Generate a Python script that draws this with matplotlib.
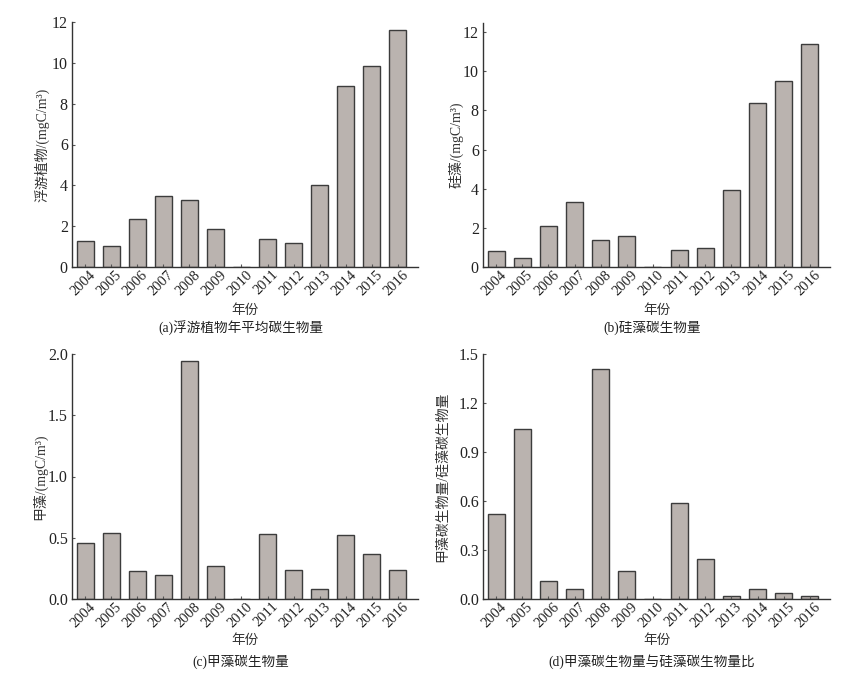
import numpy as np
import matplotlib
matplotlib.use('Agg')
import matplotlib.pyplot as plt
import matplotlib.transforms as mtransforms

plt.rcParams['font.family'] = ['Liberation Serif', 'Noto Sans CJK SC']

years = ['2004', '2005', '2006', '2007', '2008', '2009', '2010',
         '2011', '2012', '2013', '2014', '2015', '2016']
phyto = [1.26, 1.01, 2.33, 3.49, 3.27, 1.84, 0.0, 1.39, 1.16, 4.0, 8.88, 9.86, 11.62]
diatom = [0.80, 0.48, 2.09, 3.30, 1.36, 1.56, 0.0, 0.85, 0.95, 3.91, 8.35, 9.50, 11.37]
dino = [0.455, 0.54, 0.229, 0.20, 1.94, 0.27, 0.0, 0.53, 0.237, 0.079, 0.52, 0.365, 0.234]
ratio = [0.521, 1.042, 0.108, 0.059, 1.408, 0.17, 0.0, 0.585, 0.243, 0.02, 0.061, 0.037, 0.02]

ylabels = ['浮游植物/(mgC/m³)', '硅藻/(mgC/m³)', '甲藻/(mgC/m³)', '甲藻碳生物量/硅藻碳生物量']
captions = ['(a)浮游植物年平均碳生物量', '(b)硅藻碳生物量', '(c)甲藻碳生物量', '(d)甲藻碳生物量与硅藻碳生物量比']
yticks = [np.arange(0, 13, 2), np.arange(0, 13, 2), [0.0, 0.5, 1.0, 1.5, 2.0], [0.0, 0.3, 0.6, 0.9, 1.2, 1.5]]
ytickfmt = ['{:.0f}', '{:.0f}', '{:.1f}', '{:.1f}']
ylims = [(0, 12), (0, 12.46), (0, 2.0), (0, 1.5)]

W, H = 863, 676
# axes boxes in pixels: left, right, top, bottom
boxes = [(72, 418, 22, 267), (483, 830, 23, 267), (72, 418, 354, 599), (483, 830, 354, 599)]
xlab_y = [310, 310, 640, 640]
cap_y = [328, 328, 662, 662]
ylab_x = [42, 456, 40, 443]

fig = plt.figure(figsize=(W / 100, H / 100), dpi=100)
x = np.arange(len(years))
shift = mtransforms.ScaledTranslation(4 / 100, -1 / 100, fig.dpi_scale_trans)
for i, data in enumerate([phyto, diatom, dino, ratio]):
    l, r, t, b = boxes[i]
    ax = fig.add_axes([l / W, 1 - b / H, (r - l) / W, (b - t) / H])
    ax.bar(x, data, width=0.65, color='#bab3af', edgecolor='#3c3c3c', linewidth=1.0)
    ax.set_xlim(-0.5, 12.77)
    ax.set_ylim(*ylims[i])
    ax.set_xticks(x)
    ax.tick_params(direction='in', length=2.5, width=0.8, color='#555555', pad=3)
    ax.tick_params(axis='x', pad=0)
    labs = ax.set_xticklabels(years, rotation=45, ha='right', va='top', rotation_mode='anchor',
                              fontsize=10.5, color='#222222')
    for lab in labs:
        lab.set_transform(lab.get_transform() + shift)
    ax.set_yticks(yticks[i])
    ax.set_yticklabels([ytickfmt[i].format(v) for v in yticks[i]], fontsize=11.5, color='#222222')
    for s in ['top', 'right']:
        ax.spines[s].set_visible(False)
    for s in ['left', 'bottom']:
        ax.spines[s].set_color('#333333')
        ax.spines[s].set_linewidth(1.0)
    cx = (l + r) / 2 / W
    fig.text(cx, 1 - xlab_y[i] / H, '年份', ha='center', va='center', fontsize=9.8, color='#333333')
    fig.text(cx - 0.005, 1 - cap_y[i] / H, captions[i], ha='center', va='center', fontsize=9.8,
             color='#222222')
    fig.text(ylab_x[i] / W, 1 - (t + b) / 2 / H, ylabels[i], rotation=90, ha='center', va='center',
             fontsize=10, color='#333333')

fig.savefig('out.png', dpi=100)
